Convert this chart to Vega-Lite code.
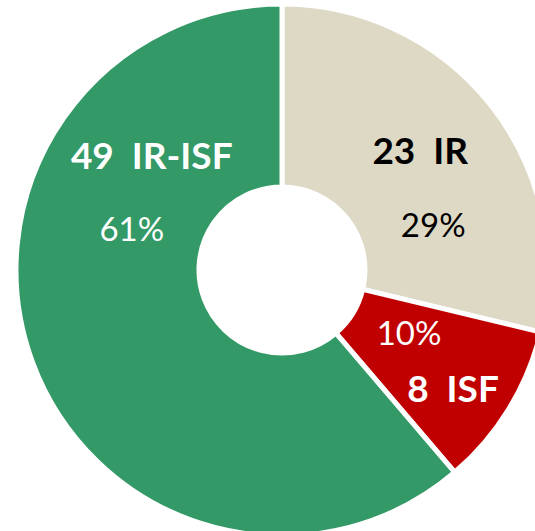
{
  "$schema": "https://vega.github.io/schema/vega-lite/v6.json",
  "width": 506,
  "height": 522,
  "autosize": {"type": "none"},
  "padding": {"left": 29, "top": 9, "right": 0, "bottom": 0},
  "background": "white",
  "config": {"view": {"stroke": null}},
  "data": {
    "values": [
      {"cat": "IR", "k": 1, "count": 23, "label": "23\u00a0\u00a0IR", "pct": "29%"},
      {"cat": "ISF", "k": 2, "count": 8, "label": "8\u00a0\u00a0ISF", "pct": "10%"},
      {"cat": "IR-ISF", "k": 3, "count": 49, "label": "49\u00a0\u00a0IR-ISF", "pct": "61%"}
    ]
  },
  "encoding": {
    "theta": {"field": "count", "type": "quantitative", "stack": true},
    "order": {"field": "k", "type": "ordinal"},
    "detail": {"field": "cat"}
  },
  "layer": [
    {
      "mark": {"type": "arc", "outerRadius": 266, "innerRadius": 83, "stroke": "white", "strokeWidth": 5},
      "encoding": {
        "color": {
          "field": "cat",
          "type": "nominal",
          "scale": {"domain": ["IR", "ISF", "IR-ISF"], "range": ["#DDD9C4", "#C00000", "#339966"]},
          "legend": null
        }
      }
    },
    {
      "mark": {"type": "text", "radius": 190, "dx": -11, "dy": 1, "font": "Lato", "fontWeight": "bold", "fontSize": 37, "color": "black", "baseline": "middle", "align": "center"},
      "encoding": {"text": {"condition": {"test": "datum.cat === 'IR'", "field": "label"}, "value": ""}}
    },
    {
      "mark": {"type": "text", "radius": 190, "dx": 2, "dy": 75, "font": "Lato", "fontSize": 33, "color": "black", "baseline": "middle", "align": "center"},
      "encoding": {"text": {"condition": {"test": "datum.cat === 'IR'", "field": "pct"}, "value": ""}}
    },
    {
      "mark": {"type": "text", "radius": 190, "dx": 9, "dy": 22, "font": "Lato", "fontWeight": "bold", "fontSize": 37, "color": "white", "baseline": "middle", "align": "center"},
      "encoding": {"text": {"condition": {"test": "datum.cat === 'ISF'", "field": "label"}, "value": ""}}
    },
    {
      "mark": {"type": "text", "radius": 190, "dx": -35, "dy": -34, "font": "Lato", "fontSize": 33, "color": "white", "baseline": "middle", "align": "center"},
      "encoding": {"text": {"condition": {"test": "datum.cat === 'ISF'", "field": "pct"}, "value": ""}}
    },
    {
      "mark": {"type": "text", "radius": 190, "dx": 48, "dy": -178, "font": "Lato", "fontWeight": "bold", "fontSize": 37, "color": "white", "baseline": "middle", "align": "center"},
      "encoding": {"text": {"condition": {"test": "datum.cat === 'IR-ISF'", "field": "label"}, "value": ""}}
    },
    {
      "mark": {"type": "text", "radius": 190, "dx": 28, "dy": -105, "font": "Lato", "fontSize": 33, "color": "white", "baseline": "middle", "align": "center"},
      "encoding": {"text": {"condition": {"test": "datum.cat === 'IR-ISF'", "field": "pct"}, "value": ""}}
    }
  ]
}
